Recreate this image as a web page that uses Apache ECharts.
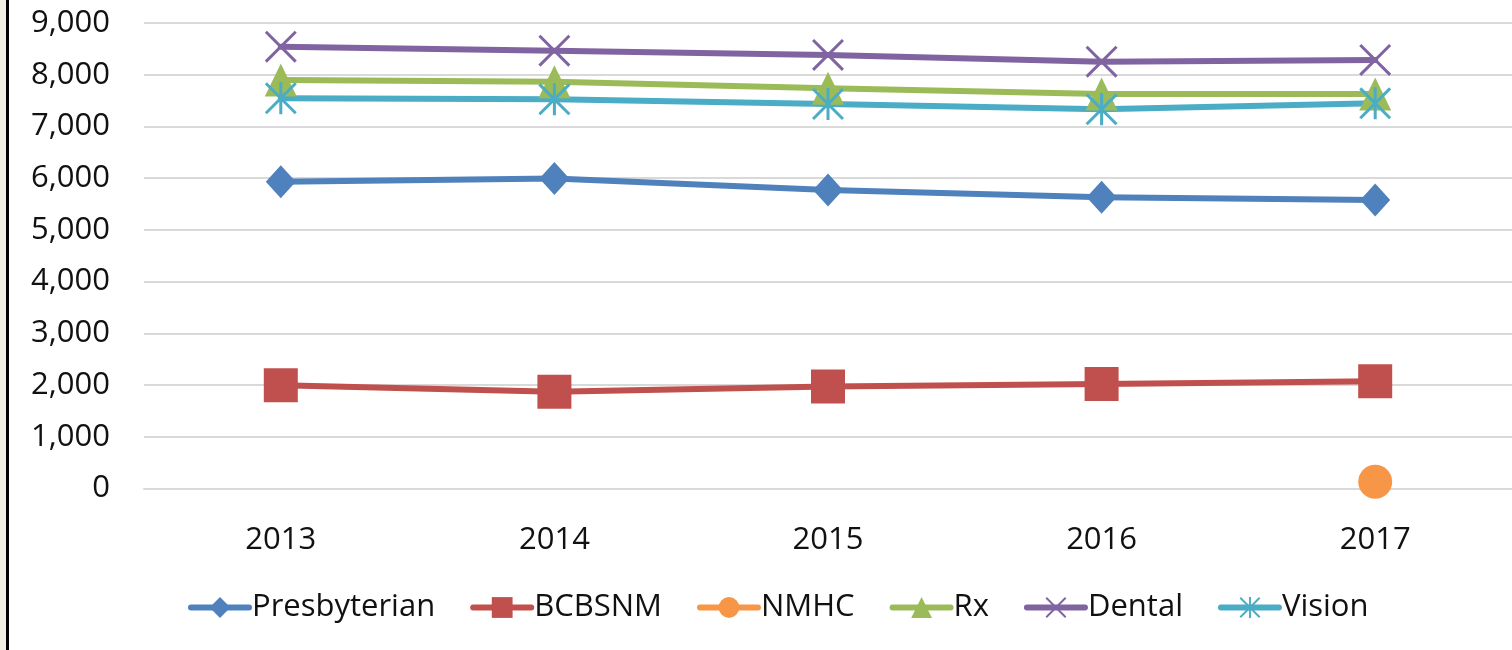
<!DOCTYPE html>
<html>
<head>
<meta charset="utf-8">
<script src="https://cdn.jsdelivr.net/npm/echarts@6/dist/echarts.min.js"></script>
<style>
  html, body { margin: 0; padding: 0; background: #ffffff; }
  #chart { position: absolute; left: 0; top: 0; width: 1512px; height: 650px; }
</style>
</head>
<body>
<div id="chart"></div>
<script>
// Enrollment by plan, 2013–2017
const years = ['2013', '2014', '2015', '2016', '2017'];
const yTicks = [0, 9000, 1000]; // min, max, interval

const presbyterian = [5930, 5995, 5770, 5630, 5580];
const bcbsnm       = [1995, 1870, 1970, 2020, 2075];
const nmhc         = [null, null, null, null, 130];
const rx           = [7900, 7865, 7740, 7627, 7625];
const dental       = [8542, 8465, 8382, 8252, 8285];
const vision       = [7545, 7525, 7434, 7332, 7448];

const FONT = '"Open Sans", "Noto Sans", sans-serif';
const TEXT = '#111111';

// cross and asterisk markers as filled bars (nonzero fill → union)
const a = 6.6, h = 4.7;
const bar1 = `M0 ${a} L${a} 0 L100 ${100 - a} L${100 - a} 100 Z`;
const bar2 = `M${100 - a} 0 L100 ${a} L${a} 100 L0 ${100 - a} Z`;
const bar3 = `M${50 - h} 0 L${50 + h} 0 L${50 + h} 100 L${50 - h} 100 Z`;
const crossPath = 'path://' + bar1 + ' ' + bar2;
const asteriskPath = 'path://' + bar1 + ' ' + bar2 + ' ' + bar3;

function lineSeries(name, data, color, symbol, size) {
  return {
    name: name,
    type: 'line',
    data: data,
    symbol: symbol,
    symbolSize: size,
    showSymbol: true,
    connectNulls: false,
    lineStyle: { color: color, width: 6, cap: 'round', join: 'round' },
    itemStyle: { color: color },
    emphasis: { disabled: true }
  };
}

const chart = echarts.init(document.getElementById('chart'), null, { renderer: 'canvas' });
chart.setOption({
  animation: false,
  backgroundColor: '#ffffff',
  graphic: [
    { type: 'rect', left: 0, top: 0, shape: { width: 6, height: 650 }, style: { fill: '#f1ede3' }, silent: true },
    { type: 'rect', left: 6, top: 0, shape: { width: 3, height: 650 }, style: { fill: '#000000' }, silent: true }
  ],
  grid: { left: 144, right: -3, top: 23, bottom: 161.5, containLabel: false },
  legend: {
    left: 188,
    top: 592,
    padding: 0,
    itemWidth: 58,
    itemHeight: 26,
    itemGap: 35,
    lineStyle: { width: 6, cap: 'round' },
    textStyle: { fontFamily: FONT, fontSize: 31, color: TEXT, padding: [0, 0, 0, -2] },
    data: ['Presbyterian', 'BCBSNM', 'NMHC', 'Rx', 'Dental', 'Vision']
  },
  xAxis: {
    type: 'category',
    data: years,
    boundaryGap: true,
    axisLine: { show: true, lineStyle: { color: '#d9d9d9', width: 2 } },
    axisTick: { show: false },
    axisLabel: { fontFamily: FONT, fontSize: 31, color: TEXT, margin: 36 }
  },
  yAxis: {
    type: 'value',
    min: yTicks[0],
    max: yTicks[1],
    interval: yTicks[2],
    axisLine: { show: false },
    axisTick: { show: false },
    splitLine: { lineStyle: { color: '#d9d9d9', width: 2 } },
    axisLabel: {
      fontFamily: FONT, fontSize: 31, color: TEXT, margin: 34,
      formatter: v => v.toLocaleString('en-US')
    }
  },
  series: [
    lineSeries('Presbyterian', presbyterian, '#4F81BD', 'diamond', [30, 33]),
    lineSeries('BCBSNM', bcbsnm, '#C0504D', 'rect', 34),
    lineSeries('NMHC', nmhc, '#F79646', 'circle', 34),
    lineSeries('Rx', rx, '#9BBB59', 'triangle', [32, 33]),
    lineSeries('Dental', dental, '#8064A2', crossPath, 32),
    lineSeries('Vision', vision, '#4BACC6', asteriskPath, 32)
  ]
});
</script>
</body>
</html>
